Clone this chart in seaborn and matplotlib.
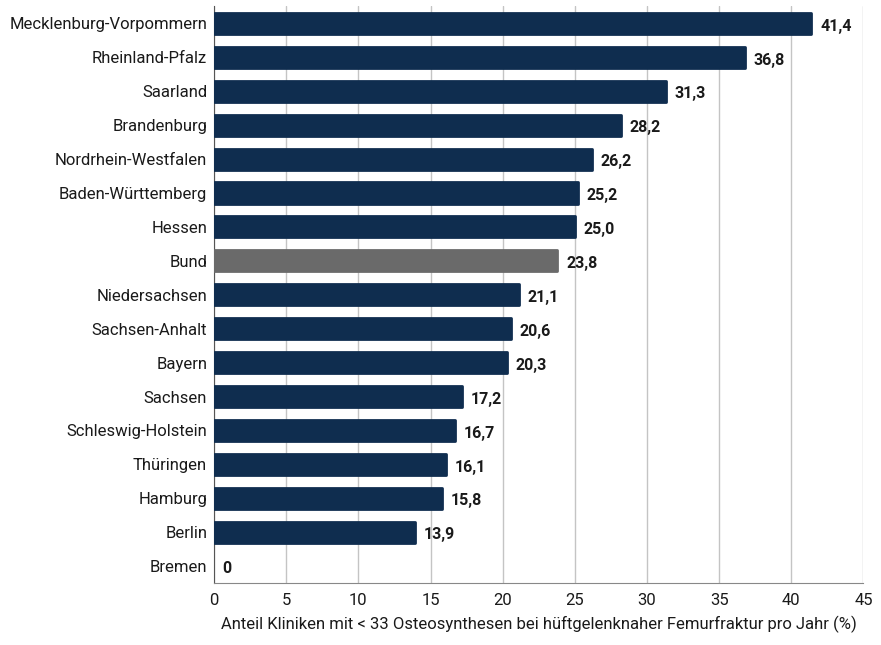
import numpy as np
import pandas as pd
import matplotlib
matplotlib.use("Agg")
import matplotlib.pyplot as plt
import seaborn as sns

laender = ["Mecklenburg-Vorpommern", "Rheinland-Pfalz", "Saarland", "Brandenburg",
           "Nordrhein-Westfalen", "Baden-Württemberg", "Hessen", "Bund",
           "Niedersachsen", "Sachsen-Anhalt", "Bayern", "Sachsen",
           "Schleswig-Holstein", "Thüringen", "Hamburg", "Berlin", "Bremen"]
anteil = [41.4, 36.8, 31.3, 28.2, 26.2, 25.2, 25.0, 23.8,
          21.1, 20.6, 20.3, 17.2, 16.7, 16.1, 15.8, 13.9, 0.0]
x_ticks = [0, 5, 10, 15, 20, 25, 30, 35, 40, 45]

NAVY = "#042c5a"
GREY = "#6a6a6a"

sns.set_style("white")
plt.rcParams["font.family"] = ["Roboto", "DejaVu Sans"]

df = pd.DataFrame({"land": laender, "anteil": anteil})
palette = {l: (GREY if l == "Bund" else NAVY) for l in laender}

fig, ax = plt.subplots(figsize=(8.81, 6.45), dpi=100)
fig.subplots_adjust(left=0.243, right=0.98, top=0.99, bottom=0.096)

sns.barplot(data=df, y="land", x="anteil", hue="land", palette=palette,
            order=laender, width=0.62, legend=False, ax=ax, zorder=3)

# slightly rounded bar corners
for bar in ax.patches:
    if bar.get_width() > 0:
        bar.set_edgecolor(bar.get_facecolor())
        bar.set_linewidth(2)
        bar.set_joinstyle("round")
    else:
        bar.set_linewidth(0)

for i, v in enumerate(anteil):
    txt = f"{v:.1f}".replace(".", ",") if v > 0 else "0"
    ax.text(v + 0.6, i + 0.08, txt, va="center", ha="left",
            fontsize=11.5, fontweight="bold", color="#1a1a1a")

ax.set_xlim(0, 45)
ax.set_ylim(len(laender) - 0.5, -0.5)
ax.set_xticks(x_ticks)
ax.set_xticklabels([str(t) for t in x_ticks], fontsize=12, color="#1a1a1a")
ax.tick_params(axis="x", length=0, pad=7)
ax.tick_params(axis="y", length=0, pad=5, labelsize=12, labelcolor="#1a1a1a")
ax.set_yticks(np.arange(len(laender) - 1) + 0.5, minor=True)
ax.tick_params(axis="y", which="minor", length=7, color="#aaaaaa", width=1)

ax.xaxis.grid(True, color="#c4c4c4", linewidth=1, zorder=0)
ax.set_axisbelow(True)
for s in ["top", "right"]:
    ax.spines[s].set_visible(False)
ax.spines["left"].set_color("#555555")
ax.spines["bottom"].set_color("#888888")

ax.set_ylabel("")
ax.set_xlabel("Anteil Kliniken mit < 33 Osteosynthesen bei hüftgelenknaher Femurfraktur pro Jahr (%)",
              fontsize=12, color="#1a1a1a", labelpad=6)

fig.savefig("out.png", dpi=100)
